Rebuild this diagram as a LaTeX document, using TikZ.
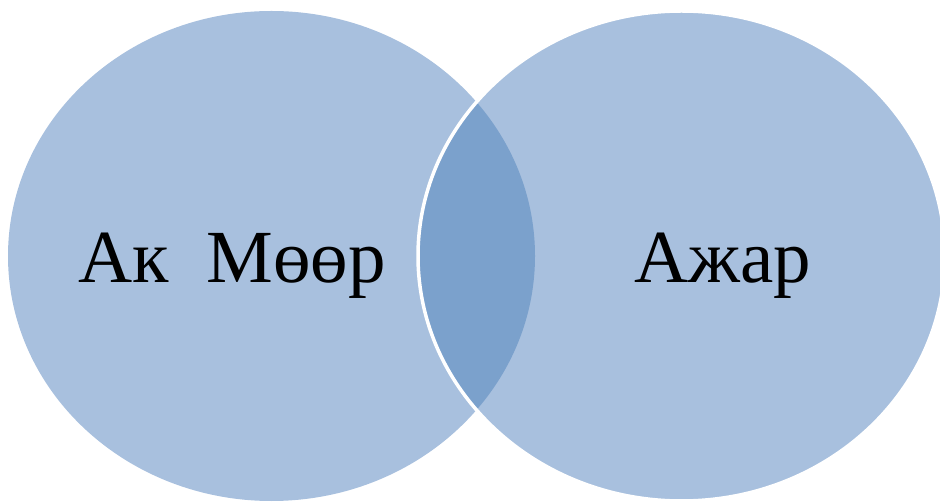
\documentclass[tikz,border=0pt]{standalone}
\usepackage{fontspec}
\setmainfont{Liberation Serif}
\usetikzlibrary{positioning}
\definecolor{lightblue}{HTML}{A8C0DE}
\definecolor{darkblue}{HTML}{7BA1CC}

\begin{document}
\begin{tikzpicture}[x=1pt, y=-1pt]
		\def\rx{263.5}
		\def\ry{245}
		\tikzstyle{set} = [fill=lightblue, draw=none]
		\tikzstyle{label} = [font=\fontsize{75}{75}\selectfont, text=black, anchor=base]
		\useasboundingbox (0,0) rectangle (940,502);
		\clip (0,0) rectangle (940,502);

		% the two sets
		\coordinate (left-set) at (271.5,256);
		\coordinate (right-set) at (681.5,256);
		\path[set] (left-set) ellipse ({\rx} and {\ry});
		\path[set] (right-set) ellipse ({\rx} and {\ry});

		% overlap
		\begin{scope}
			\clip (left-set) ellipse ({\rx} and {\ry});
			\fill[darkblue] (right-set) ellipse ({\rx} and {\ry});
		\end{scope}
		\draw[white, line width=3.5pt] (right-set) ellipse ({\rx} and {\ry});

		% annotations
		\node[label] (left-name) at (232,283) {Ак\ \ Мөөр};
		\node[label] (right-name) at (723,283) {Ажар};
	\end{tikzpicture}
\end{document}
